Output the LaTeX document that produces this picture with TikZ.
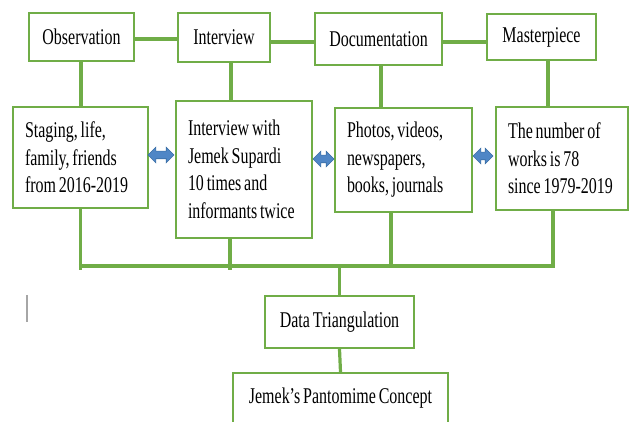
\documentclass[tikz,border=0pt]{standalone}
\usepackage{fontspec}
\setmainfont{Liberation Serif}[FakeStretch=0.71, WordSpace=0.71]
\usetikzlibrary{shapes.arrows}
\definecolor{grn}{HTML}{70AD47}
\definecolor{arrblue}{HTML}{4F86C6}
\definecolor{arredge}{HTML}{3A6EA5}
\begin{document}
\begin{tikzpicture}[x=1pt,y=-1pt,
  box/.style={draw=grn, line width=2pt, fill=white, font=\fontsize{22.5}{27.5}\selectfont, inner sep=0pt},
  topbox/.style={box, align=center},
  textbox/.style={box, align=flush left, inner xsep=12pt},
  link/.style={draw=grn, line width=3.2pt},
  bus/.style={draw=grn, line width=4pt},
  dbl/.style={double arrow, fill=arrblue, draw=arredge, line width=0.6pt, inner sep=3.5pt, double arrow head extend=4pt, minimum width=15pt}]
\useasboundingbox (0,0) rectangle (630,422);

% top row
\node[topbox, minimum width=105pt, minimum height=48pt] (obs) at (81.5,37) {Observation};
\node[topbox, minimum width=92pt, minimum height=49pt] (int) at (224,37.5) {Interview};
\node[topbox, minimum width=127pt, minimum height=52pt] (doc) at (378.5,39) {Documentation};
\node[topbox, minimum width=109pt, minimum height=46pt] (mas) at (541.5,37) {Masterpiece};

% second row
\node[textbox, text width=111pt, minimum width=135pt, minimum height=101pt] (stg) at (80.5,157.5) {Staging, life,\\family, friends\\from 2016-2019};
\node[textbox, text width=112pt, minimum width=136pt, minimum height=137pt] (iw) at (244,169.5) {Interview with\\Jemek Supardi\\10 times and\\informants twice};
\node[textbox, text width=113pt, minimum width=137pt, minimum height=104pt] (pho) at (403.5,160) {Photos, videos,\\newspapers,\\books, journals};
\node[textbox, text width=108pt, minimum width=132pt, minimum height=103pt] (num) at (562,158.5) {The number of\\works is 78\\since 1979-2019};

% bottom
\node[topbox, minimum width=149pt, minimum height=52pt] (dat) at (339.5,322) {Data Triangulation};
\node[topbox, minimum width=215pt, minimum height=50pt] (jem) at (340.5,398) {Jemek’s Pantomime Concept};

% top row links
\coordinate (c1) at ([yshift=-2pt]obs.east);
\coordinate (c2) at ([yshift=-4.5pt]int.east);
\coordinate (c3) at ([yshift=-3pt]doc.east);
\draw[link] (c1) -- (c1 -| int.west);
\draw[link] (c2) -- (c2 -| doc.west);
\draw[link] (c3) -- (c3 -| mas.west);

% verticals top to second row
\coordinate (v1) at ([xshift=-0.5pt]obs.south);
\coordinate (v2) at ([xshift=7pt]int.south);
\coordinate (v3) at ([xshift=2.5pt]doc.south);
\coordinate (v4) at ([xshift=6.5pt]mas.south);
\draw[link] (v1) -- (v1 |- stg.north);
\draw[link] (v2) -- (v2 |- iw.north);
\draw[link] (v3) -- (v3 |- pho.north);
\draw[link] (v4) -- (v4 |- num.north);

% bus
\coordinate (busy) at (0,266);
\coordinate (busend) at (0,270);
\coordinate (w1) at (stg.south);
\coordinate (w2) at ([xshift=-14pt]iw.south);
\coordinate (w3) at ([xshift=-12.5pt]pho.south);
\coordinate (w4) at ([xshift=-9pt]num.south);
\draw[link] (w1) -- (w1 |- busend);
\draw[link] (w2) -- (w2 |- busend);
\draw[link] (w3) -- (w3 |- busy);
\draw[link] (w4) -- (w4 |- busy);
\draw[bus] ([xshift=-1.6pt]w1 |- busy) -- ([xshift=1.6pt]w4 |- busy);
\draw[link] (dat.north |- busy) -- (dat.north);
\draw[link] (dat.south) -- (jem.north);

% double arrows
\node[dbl, minimum height=26pt] (a1) at (161,155) {};
\node[dbl, minimum height=21pt] (a2) at (323.5,159) {};
\node[dbl, minimum height=20pt] (a3) at (483,156) {};

% cursor mark
\draw[gray!70, line width=1.2pt] (27,295) -- (27,322);
\end{tikzpicture}
\end{document}
